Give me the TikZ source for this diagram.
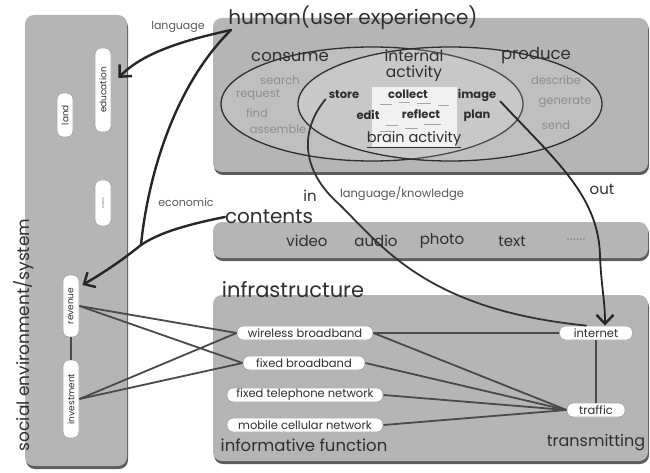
\documentclass[tikz,border=0pt]{standalone}
\usepackage{fontspec}
\setmainfont{Poppins}
\usetikzlibrary{arrows.meta,calc}
\definecolor{panel}{HTML}{B5B5B5}
\definecolor{shade}{HTML}{5C5C5C}
\definecolor{ink}{HTML}{2F2F2F}
\definecolor{faint}{HTML}{8E8E8E}
\definecolor{wire}{HTML}{4A4A4A}
\newcommand{\fs}[1]{\fontsize{#1}{#1}\selectfont}
\tikzset{
  panelbox/.style={fill=panel, rounded corners=9pt},
  shadowbox/.style={fill=shade, rounded corners=9pt},
  title/.style={text=ink, font=\fs{20}, inner sep=0pt},
  label/.style={text=ink, font=\fs{15}, inner sep=0pt},
  small/.style={text=ink!80, font=\fs{11}, inner sep=0pt},
  faintword/.style={text=faint, font=\fs{11.5}, inner sep=0pt},
  actword/.style={text=ink, font=\fs{11.5}\bfseries, inner sep=0pt},
  pill/.style={draw=gray!65, fill=white, rounded corners=6pt, line width=0.9pt,
    inner sep=0pt, text=ink, font=\fs{11.5}, minimum height=14pt},
  vpill/.style={pill, rotate=90, minimum height=16pt, font=\fs{9}},
  ell/.style={draw=ink, line width=1.3pt, fill=white, fill opacity=0.14},
  link/.style={draw=wire, line width=1.8pt},
  bigarrow/.style={draw=black!85, line width=2.4pt, line cap=round,
    -{Straight Barb[length=9pt,width=17pt,line width=2.4pt]}},
  bigline/.style={draw=black!85, line width=2.4pt, line cap=round},
  thinline/.style={draw=black!80, line width=1.8pt, line cap=round},
}
\begin{document}
\begin{tikzpicture}[x=1pt,y=-1pt]
\useasboundingbox (0,0) rectangle (650,473);

% panels with their bottom shadows
\foreach \a/\b in {{25,15}/{127,466},{213,18}/{648,172},{213,222}/{648,258},{213,295}/{648,461}}{
  \fill[shadowbox] ($(\a)+(1,3)$) rectangle ($(\b)+(1,3)$);
  \fill[panelbox] (\a) rectangle (\b);
}

% ---------- social environment / system ----------
\node[title, font=\fs{17}, rotate=90] (soc) at (24,335) {social environment/system};
\node[vpill, minimum width=84pt] (edu) at (103,90) {education};
\node[vpill, minimum width=44pt] (land) at (65,115) {land};
\node[vpill, minimum width=46pt] (etc) at (103,203) {......};
\node[vpill, minimum width=62pt] (rev) at (71,306) {revenue};
\node[vpill, minimum width=78pt] (inv) at (71,399) {investment};
\draw[link] (rev.west) -- (inv.east);

% ---------- human (user experience) ----------
\node[title] (htitle) at (353,18) {human(user experience)};
\draw[ell] (372,104) ellipse [x radius=151, y radius=57];
\draw[ell] (450,104) ellipse [x radius=152, y radius=57];
\node[label, font=\fs{16.5}] (consume) at (290,57) {consume};
\node[label, font=\fs{16.5}] (produce) at (536,56) {produce};
\node[label, font=\fs{15.5}] (internal) at (414,56) {internal};
\node[label, font=\fs{15.5}] (activity) at (414,74) {activity};

\node[faintword] (search) at (280,80) {search};
\node[faintword] (request) at (258,95) {request};
\node[faintword] (find) at (257,113) {find};
\node[faintword] (assemble) at (278,129) {assemble};
\node[faintword] (describe) at (556,80) {describe};
\node[faintword] (generate) at (565,102) {generate};
\node[faintword] (send) at (556,125) {send};

\fill[white, opacity=0.75] (372,87) rectangle (457,147);
\foreach \p/\q in {{380,104}/{392,104},{399,102}/{410,102},{417,103}/{431,103},
                   {438,105}/{449,105},{386,125}/{398,125},{405,128}/{418,128},
                   {424,124}/{441,124},{380,131}/{392,131}}{
  \draw[gray!70, line width=0.6pt] (\p) -- (\q);
}
\node[actword] (store) at (344,95) {store};
\node[actword] (collect) at (408,94) {collect};
\node[actword] (image) at (477,95) {image};
\node[actword] (edit) at (368,115) {edit};
\node[actword] (reflect) at (421,114) {reflect};
\node[actword] (plan) at (477,116) {plan};
\node[label, font=\fs{14.5}] (brain) at (414,139) {brain activity};
\draw[ink, line width=0.8pt] ($(brain.south west)+(0,1)$) -- ($(brain.south east)+(0,1)$);

% ---------- flow labels ----------
\node[label] (in) at (310,196) {in};
\node[small, font=\fs{11.5}] (lk) at (402,194) {language/knowledge};
\node[label] (out) at (602,189) {out};
\node[small] (lang) at (178,27) {language};
\node[small] (econ) at (186,202) {economic};

% ---------- contents ----------
\node[title] (ctitle) at (269,217) {contents};
\node[label] (video) at (307,241) {video};
\node[label] (audio) at (376,241) {audio};
\node[label] (photo) at (442,241) {photo};
\node[label] (text) at (512,241) {text};
\node[label, text=faint] (more) at (576,240) {......};

% ---------- infrastructure ----------
\node[title, font=\fs{21}] (ititle) at (293,290) {infrastructure};
\node[pill, minimum width=136pt] (wb) at (305,333) {wireless broadband};
\node[pill, minimum width=122pt] (fb) at (304,363) {fixed broadband};
\node[pill, minimum width=156pt] (ft) at (305,395) {fixed telephone network};
\node[pill, minimum width=156pt] (mc) at (305,425) {mobile cellular network};
\node[pill, minimum width=73pt] (internet) at (596,333) {internet};
\node[pill, minimum width=58pt] (traffic) at (596,410) {traffic};
\node[label, font=\fs{16.5}] (inform) at (304,445) {informative function};
\node[label, font=\fs{16}] (trans) at (596,443) {transmitting};

\draw[link] (wb.east) -- (internet.west);
\draw[link] (internet.south) -- (traffic.north);
\foreach \n in {wb,fb,ft,mc}{
  \draw[link] (\n.east) -- (traffic.west);
}
\foreach \s in {rev,inv}{
  \foreach \t in {wb,fb}{
    \draw[link] (\s.south) -- (\t.west);
  }
}

% ---------- long connectors ----------
\coordinate (hs) at (231,30);
\coordinate (merge) at (141,245);
\draw[bigarrow] (hs) .. controls (195,38) and (145,50) .. ($(edu.south)+(7,-12)$);
\draw[bigline] (hs) .. controls (175,85) and (148,175) .. (merge);
\draw[bigline] (ctitle.west) .. controls (190,224) and (160,232) .. (merge);
\draw[bigarrow] (merge) .. controls (125,258) and (105,272) .. ($(rev.south)+(3,-21)$);

\draw[thinline] ($(store.south west)+(-3,0)$) .. controls (300,130) and (300,170) .. (340,205)
  .. controls (385,250) and (430,310) .. ($(internet.north west)+(27,0)$);
\draw[bigarrow, line width=1.8pt] ($(image.south east)+(4,0)$) .. controls (555,160) and (598,195) .. (600,255)
  .. controls (601,285) and (605,300) .. ($(internet.north)+(9,0)$);
\end{tikzpicture}
\end{document}
